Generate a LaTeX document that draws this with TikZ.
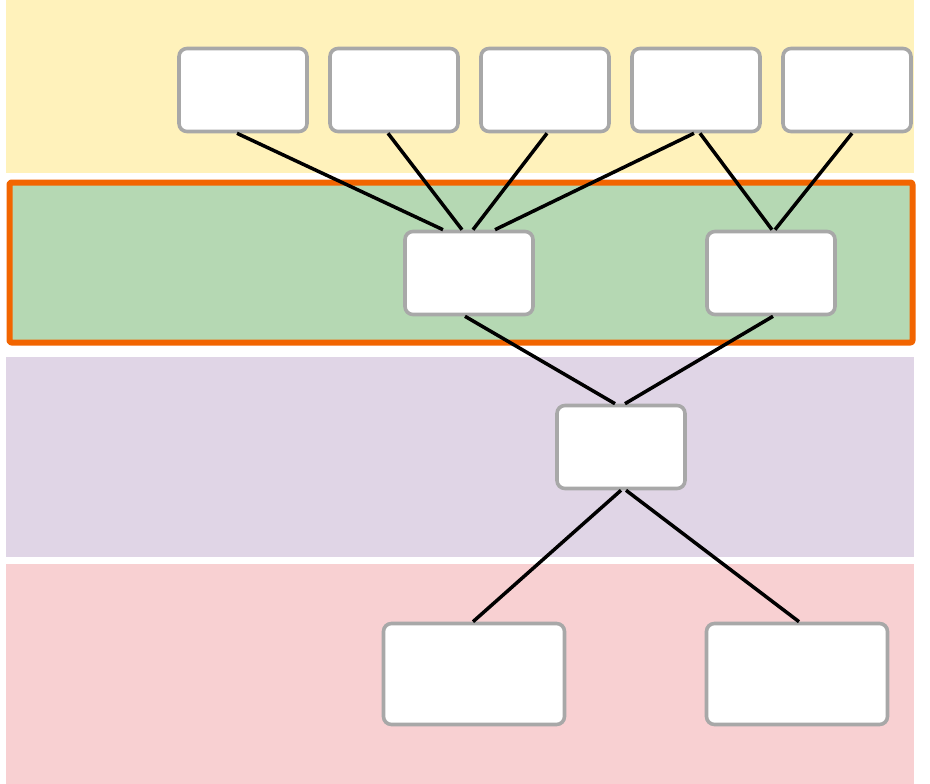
\documentclass[tikz,border=0pt]{standalone}
\usepackage{tikz}
\usetikzlibrary{arrows}

\definecolor{bandyellow}{RGB}{255,242,187}
\definecolor{bandgreen}{RGB}{181,216,179}
\definecolor{bandpurple}{RGB}{224,213,230}
\definecolor{bandpink}{RGB}{248,208,210}
\definecolor{frameorange}{RGB}{242,101,0}
\definecolor{boxgray}{RGB}{168,168,168}

\begin{document}
\begin{tikzpicture}[line join=round,x=1pt,y=-1pt,
  box/.style={draw=boxgray,fill=white,line width=3.6pt,rounded corners=8pt,
    inner sep=0pt,minimum width=128pt,minimum height=83pt},
  widebox/.style={box,minimum width=181pt,minimum height=101pt},
  link/.style={line width=3.5pt,color=black}]
\useasboundingbox (0,0) rectangle (930,784);
\fill[white] (0,0) rectangle (930,784);
%kaistat
\fill[bandyellow] (6,0) rectangle (914,173);
\fill[bandgreen] (9.5,182.5) rectangle (912.5,342.5);
\draw[frameorange,line width=6pt,rounded corners=2pt] (9.5,182.5) rectangle (912.5,342.5);
\fill[bandpurple] (6,357) rectangle (914,557);
\fill[bandpink] (6,564) rectangle (914,784);

%laatikot
\foreach \k in {1,...,5}
{
\node [box] (t\k) at (92+\k*151,90) {};
}
\node [box] (m1) at (469,273) {};
\node [box] (m2) at (771,273) {};
\node [box] (p) at (621,447) {};
\node [widebox] (b1) at (474,674) {};
\node [widebox] (b2) at (797,674) {};

%viivat
\draw[link] ([xshift=-6]t1.south) -- ([xshift=-26]m1.north);
\draw[link] ([xshift=-6]t2.south) -- ([xshift=-7]m1.north);
\draw[link] ([xshift=2]t3.south) -- ([xshift=4]m1.north);
\draw[link] ([xshift=-2]t4.south) -- ([xshift=26]m1.north);
\draw[link] ([xshift=4]t4.south) -- ([xshift=1]m2.north);
\draw[link] ([xshift=5]t5.south) -- ([xshift=4]m2.north);
\draw[link] ([xshift=-4]m1.south) -- ([xshift=-6]p.north);
\draw[link] ([xshift=2]m2.south) -- ([xshift=4]p.north);
\draw[link] (p.south) -- ([xshift=-1]b1.north);
\draw[link] ([xshift=5]p.south) -- ([xshift=2]b2.north);
\end{tikzpicture}
\end{document}
